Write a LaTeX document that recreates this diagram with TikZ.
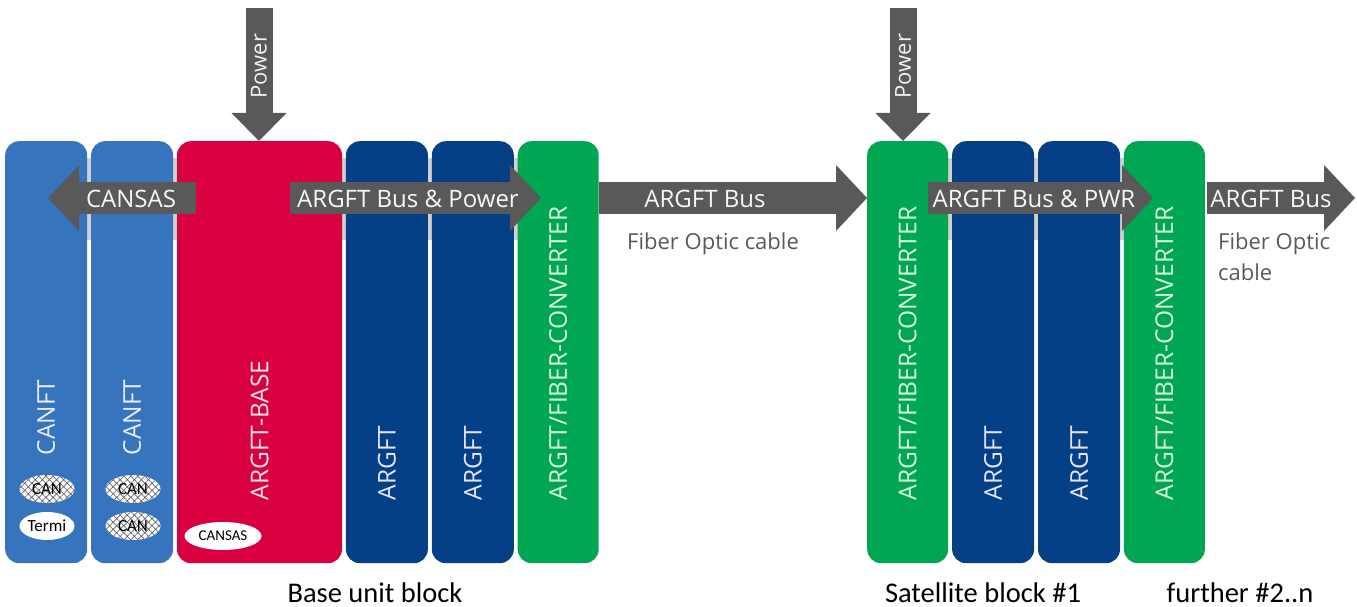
\documentclass[tikz,border=0pt]{standalone}
\usepackage{fontspec}
\setmainfont{Open Sans}
\newfontfamily\calib{Carlito}
\usetikzlibrary{calc,positioning,arrows.meta,shapes.geometric,patterns.meta}

\definecolor{canblue}{HTML}{3674BD}
\definecolor{argblue}{HTML}{053F86}
\definecolor{basered}{HTML}{D9003F}
\definecolor{convgreen}{HTML}{00A651}
\definecolor{busgray}{HTML}{595959}
\definecolor{bandgray}{HTML}{D0D0D0}

\tikzset{
	module/.style={rounded corners=14pt, minimum height=422pt, minimum width=82pt, inner sep=0pt},
	canft/.style={module, fill=canblue},
	argft/.style={module, fill=argblue},
	conv/.style={module, fill=convgreen, minimum width=81pt},
	modtext/.style={rotate=90, anchor=west, inner sep=0pt, font=\fontsize{24.5}{28}\selectfont},
	bus/.style={draw=busgray, line width=32pt, -{Triangle[length=31pt, width=66pt, line width=0pt]}},
	power/.style={draw=busgray, line width=27pt, -{Triangle[length=28pt, width=55pt, line width=0pt]}},
	buslabel/.style={anchor=base, inner sep=0pt, text=gray!6, font=\fontsize{24}{28}\selectfont},
	cable/.style={anchor=base west, inner sep=0pt, text=busgray, font=\fontsize{22}{31}\selectfont, align=left},
	jack/.style={ellipse, fill=white, minimum width=55pt, minimum height=28pt, inner sep=0pt, font=\calib\fontsize{17}{18}\selectfont},
	hatched/.style={jack, postaction={pattern={Hatch[angle=45, distance=5pt, line width=0.7pt]}, pattern color=gray!80!black}},
	blocklabel/.style={anchor=base, inner sep=0pt, font=\calib\fontsize{28.5}{30}\selectfont},
}

\begin{document}
\begin{tikzpicture}[x=1pt, y=-1pt]
	\useasboundingbox (0,0) rectangle (1357,607);
	\fill[bandgray] (5,158) rectangle (596,240);
	\fill[bandgray] (867,158) rectangle (1204,240);

	\node[canft, anchor=north west] (canft1) at (5,141) {};
	\node[canft, right=3.5pt of canft1] (canft2) {};
	\node[module, fill=basered, minimum width=165pt, right=3.5pt of canft2] (base) {};
	\node[argft, right=3.5pt of base] (argft1) {};
	\node[argft, right=3.5pt of argft1] (argft2) {};
	\node[conv, right=3.5pt of argft2] (conv1) {};

	\node[conv, anchor=north west] (conv2) at (867,141) {};
	\node[argft, right=3.5pt of conv2] (argft3) {};
	\node[argft, right=3.5pt of argft3] (argft4) {};
	\node[conv, right=3.5pt of argft4] (conv3) {};

	\foreach \m/\t/\c/\h in {canft1/CANFT/blue!8/108, canft2/CANFT/blue!8/108, base/ARGFT-BASE/red!10/63,
		argft1/ARGFT/blue!10/63, argft2/ARGFT/blue!10/63, conv1/ARGFT\slash FIBER-CONVERTER/green!15/63,
		conv2/ARGFT\slash FIBER-CONVERTER/green!15/63, argft3/ARGFT/blue!10/63, argft4/ARGFT/blue!10/63,
		conv3/ARGFT\slash FIBER-CONVERTER/green!15/63}
		\node[modtext, text=\c] (\m txt) at ([yshift=\h pt]\m.south) {\t};

	\node[hatched] (can1) at (47,489) {CAN};
	\node[jack] (termi) at (47,526) {Termi};
	\node[hatched] (can2) at (133,489) {CAN};
	\node[hatched] (can3) at (133,526) {CAN};
	\node[jack, minimum width=77pt, font=\calib\fontsize{15}{16}\selectfont] (cansasjack) at (223,536) {CANSAS};

	\coordinate (pwr1) at (259,8);
	\coordinate (pwr2) at (903,8);
	\draw[power] (pwr1) -- (pwr1 |- base.north);
	\draw[power] (pwr2) -- (pwr2 |- conv2.north);
	\node[rotate=90, inner sep=0pt, text=gray!10, font=\fontsize{22}{26}\selectfont] (pwr1txt) at (259,66) {Power};
	\node[rotate=90, inner sep=0pt, text=gray!10, font=\fontsize{22}{26}\selectfont] (pwr2txt) at (903,66) {Power};

	\coordinate (cansasA) at (196,198);
	\coordinate (cansasB) at (48,198);
	\coordinate (busA) at (290,198);
	\coordinate (busB) at (541,198);
	\coordinate (satA) at (928,198);
	\coordinate (satB) at (1153,198);
	\coordinate (nextA) at (1207,198);
	\coordinate (nextB) at (1355,198);
	\draw[bus] (cansasA) -- (cansasB);
	\draw[bus] (busA) -- (busB);
	\draw[bus] (conv1.east |- busA) -- (conv2.west |- busA);
	\draw[bus] (satA) -- (satB);
	\draw[bus] (nextA) -- (nextB);

	\node[buslabel] (cansaslbl) at (131,207) {CANSAS};
	\node[buslabel] (buslbl) at (408,207) {ARGFT Bus \& Power};
	\node[buslabel] (fiberlbl) at (705,207) {ARGFT Bus};
	\node[buslabel] (satlbl) at (1034,207) {ARGFT Bus \& PWR};
	\node[buslabel] (nextlbl) at (1271,207) {ARGFT Bus};
	\node[cable] (cable1) at (627,249) {Fiber Optic cable};
	\node[cable] (cable2) at (1218,280) {Fiber Optic\\cable};

	\node[blocklabel] (baseblk) at (375,602) {Base unit block};
	\node[blocklabel] (satblk) at (983,602) {Satellite block \#1};
	\node[blocklabel] (furtherblk) at (1240,602) {further \#2..n};
\end{tikzpicture}
\end{document}
